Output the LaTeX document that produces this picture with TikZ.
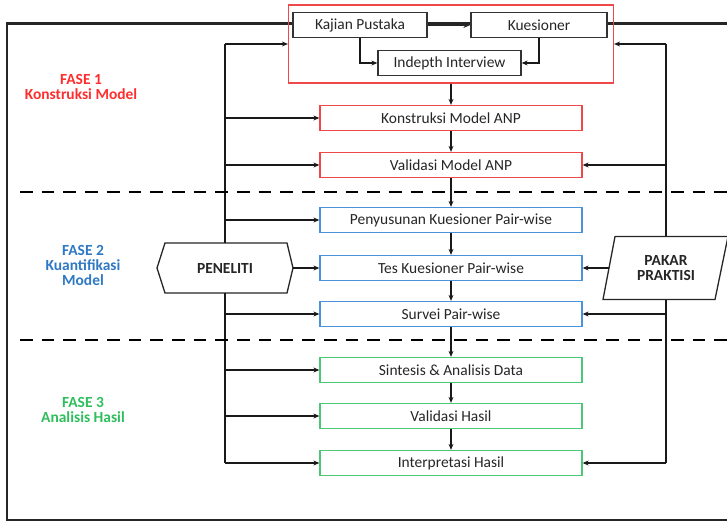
\documentclass[tikz,border=0pt]{standalone}
\usepackage{fontspec}
\setmainfont{Carlito}
\usetikzlibrary{arrows.meta}
\definecolor{fred}{HTML}{FF2E2E}
\definecolor{bred}{HTML}{F04848}
\definecolor{fblue}{HTML}{2F78C4}
\definecolor{bblue}{HTML}{4A92DA}
\definecolor{fgreen}{HTML}{2FBE5C}
\definecolor{bgreen}{HTML}{4CC777}
\begin{document}
\begin{tikzpicture}[x=1bp,y=-1bp,
  every node/.style={font=\fontsize{15.5}{15}\selectfont, text=black!85},
  box/.style={draw, fill=white, minimum height=25bp, inner sep=0pt, line width=1.3pt},
  blackbox/.style={box, draw=black!80},
  flowbox/.style={box, minimum width=262bp},
  redbox/.style={flowbox, draw=bred},
  bluebox/.style={flowbox, draw=bblue},
  greenbox/.style={flowbox, draw=bgreen},
  arr/.style={-{Stealth[length=6pt,width=5pt]}, line width=1.8pt, black!90},
  conn/.style={line width=1.8pt, black!90},
  divider/.style={line width=3pt, dash pattern=on 12.7bp off 9bp},
  phase/.style={align=center, font=\fontsize{15.5}{15}\selectfont\bfseries},
  actor/.style={align=center, font=\fontsize{15.5}{15}\selectfont\bfseries, inner sep=0pt},
  actorshape/.style={draw=black!85, fill=white, line width=1.3pt}
]
\useasboundingbox (0,0) rectangle (727,522);

% outer frame
\draw[line width=2.4pt, black!85] (7,23.5) rectangle (730,520);

% group box and top boxes
\node[draw=bred, line width=1.2pt, minimum width=325bp, minimum height=78bp, inner sep=0pt] (grp) at (451,44) {};
\node[blackbox, minimum width=134bp] (kp) at (360,25) {Kajian Pustaka};
\node[blackbox, minimum width=136bp] (ku) at (539,25) {Kuesioner};
\node[blackbox, minimum width=143bp] (ii) at (449.5,63) {Indepth Interview};

% flow boxes
\node[redbox] (b1) at (451,118) {Konstruksi Model ANP};
\node[redbox] (b2) at (451,165) {Validasi Model ANP};
\node[bluebox] (b3) at (451,220) {Penyusunan Kuesioner Pair-wise};
\node[bluebox] (b4) at (451,268) {Tes Kuesioner Pair-wise};
\node[bluebox] (b5) at (451,314) {Survei Pair-wise};
\node[greenbox] (b6) at (451,370) {Sintesis \& Analisis Data};
\node[greenbox] (b7) at (451,416) {Validasi Hasil};
\node[greenbox] (b8) at (451,463) {Interpretasi Hasil};

% actors
\draw[actorshape] (157,268) -- (165,243) -- (287,243) -- (293,268) -- (287,293) -- (165,293) -- cycle;
\node[actor, minimum width=122bp, minimum height=50bp] (pen) at (225,268) {PENELITI};
\draw[actorshape] (615,236.5) -- (728,236.5) -- (715,299.5) -- (603,299.5) -- cycle;
\node[actor, minimum width=102bp, minimum height=63bp] (pk) at (666,268) {PAKAR\\PRAKTISI};

% phase labels
\node[phase, text=fred] (f1) at (81,87) {FASE 1\\Konstruksi Model};
\node[phase, text=fblue] (f2) at (83,265.5) {FASE 2\\Kuantifikasi\\Model};
\node[phase, text=fgreen] (f3) at (83,410) {FASE 3\\Analisis Hasil};

% connectors inside group
\draw[-{Stealth[length=7pt,width=6pt]}, line width=3pt, black!85] (kp.east) -- (ku.west);
\draw[arr] (kp.south) |- (ii.west);
\draw[arr] (ku.south) |- (ii.east);

% central flow
\draw[arr] (grp.south) -- (b1.north);
\draw[arr] (b1.south) -- (b2.north);
\draw[arr] (b2.south) -- (b3.north);
\draw[arr] (b3.south) -- (b4.north);
\draw[arr] (b4.south) -- (b5.north);
\draw[arr] (b5.south) -- (b6.north);
\draw[arr] (b6.south) -- (b7.north);
\draw[arr] (b7.south) -- (b8.north);

% left bus (PENELITI)
\coordinate (L0) at (225,44);
\coordinate (L1) at (225,463);
\draw[conn] (L0) -- (pen.north);
\draw[conn] (pen.south) -- (L1);
\draw[arr] (L0) -- (grp.west);
\foreach \bx in {b1,b2,b3,b5,b6,b7} \draw[arr] (\bx.west -| L0) -- (\bx.west);
\draw[arr] (L1) -- (b8.west);
\draw[arr] ([xshift=7bp]pen.east) -- (b4.west);

% right bus (PAKAR)
\coordinate (R0) at (666,44);
\coordinate (R1) at (666,463);
\draw[conn] (R0) -- (pk.north);
\draw[conn] (pk.south) -- (R1);
\draw[arr] (R0) -- (grp.east);
\foreach \bx in {b2,b5} \draw[arr] (\bx.east -| R0) -- (\bx.east);
\draw[arr] (R1) -- (b8.east);
\draw[arr] ([xshift=-6bp]pk.west) -- (b4.east);

% phase dividers
\coordinate (D1a) at (20,192);
\coordinate (D1b) at (727,192);
\coordinate (D2a) at (20,340);
\coordinate (D2b) at (727,340);
\draw[divider] (D1a) -- (D1b);
\draw[divider] (D2a) -- (D2b);
\end{tikzpicture}
\end{document}
